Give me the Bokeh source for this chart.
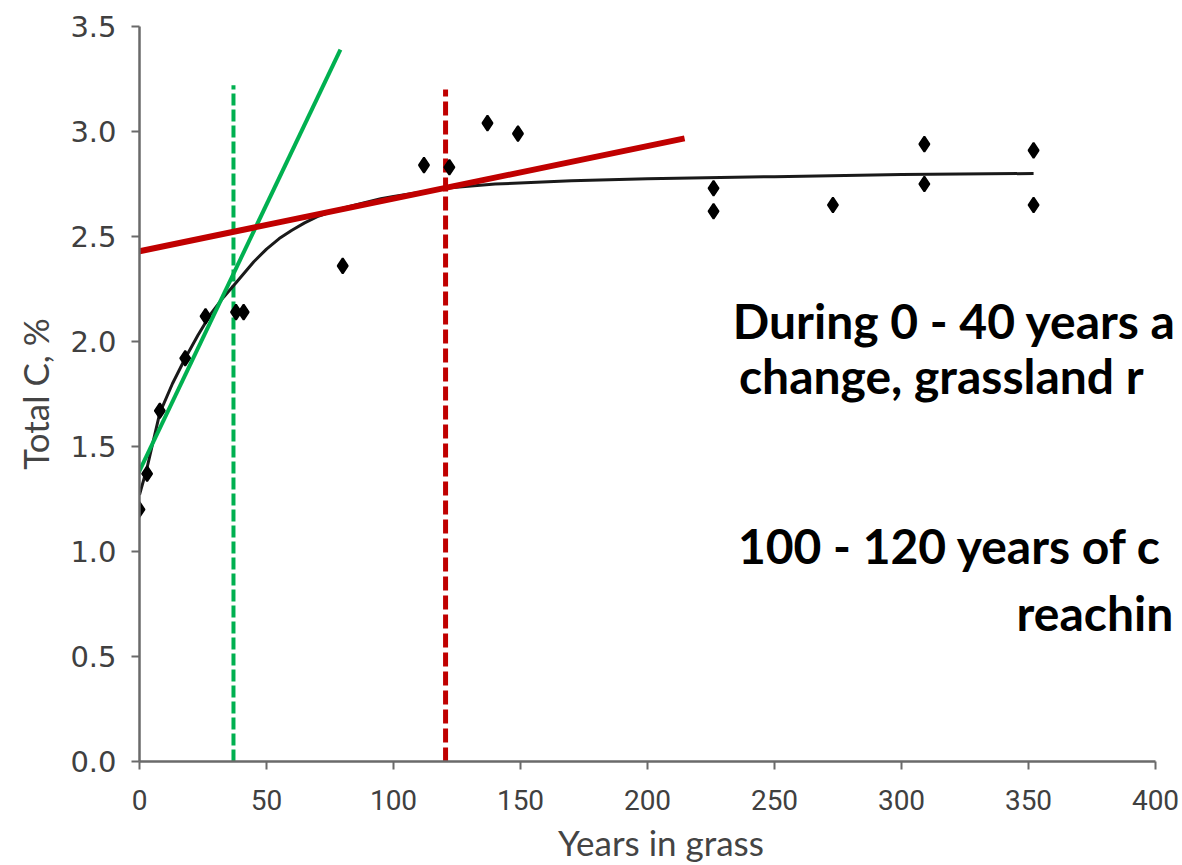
from bokeh.plotting import figure
from bokeh.models import Range1d, FixedTicker, NumeralTickFormatter
from bokeh.core.properties import value
from bokeh.embed import file_html
from bokeh.resources import INLINE

# ---------------- data ----------------
years = [0, 3, 8, 18, 26, 38, 41, 80, 112, 122, 137, 149, 226, 226, 273, 309, 309, 352, 352]
total_c = [1.20, 1.37, 1.67, 1.92, 2.12, 2.14, 2.14, 2.36, 2.84, 2.83, 3.04, 2.99,
           2.73, 2.62, 2.65, 2.94, 2.75, 2.91, 2.65]

curve_x = [0, 3, 8, 13, 18, 23, 28, 33, 38, 45, 50, 55, 60, 65, 70, 75, 80, 85, 95,
           100, 110, 120, 140, 170, 200, 250, 300, 352]
curve_y = [1.27, 1.40, 1.66, 1.80, 1.92, 2.03, 2.13, 2.21, 2.28, 2.38, 2.44, 2.49,
           2.53, 2.565, 2.595, 2.615, 2.635, 2.65, 2.68, 2.69, 2.71, 2.73, 2.75, 2.765,
           2.775, 2.785, 2.795, 2.80]

green_x = [-5.1, 79.1]
green_y = [1.255, 3.39]
red_x = [0, 214.6]
red_y = [2.43, 2.967]

green_dash_x = 37.0
green_dash_top = 3.22
red_dash_x = 120.5
red_dash_top = 3.20

x_ticks = [0, 50, 100, 150, 200, 250, 300, 350, 400]
y_ticks = [0.0, 0.5, 1.0, 1.5, 2.0, 2.5, 3.0, 3.5]

notes = ["During 0 - 40 years a", "change, grassland r", "100 - 120 years of c", "reachin"]
note_x = [233.6, 236.0, 235.6, 345.3]
note_y = [2.10, 1.84, 1.03, 0.71]

# ---------------- layout ----------------
W, H = 1182, 865
LEFT, TOP, BOTTOM = 139, 26, 103
PX_PER_YEAR = 2.54
x_end = (W - LEFT) / PX_PER_YEAR

RED = "#C00000"
GREEN = "#00B050"
AXIS = "#6a6a6a"
TICKTXT = "#404040"

p = figure(width=W, height=H, x_range=Range1d(0, x_end), y_range=Range1d(0, 3.5),
           output_backend="svg", toolbar_location=None,
           min_border_left=LEFT, min_border_right=0, min_border_top=TOP,
           min_border_bottom=BOTTOM)
p.outline_line_color = None
p.grid.visible = False
p.background_fill_color = "white"
p.border_fill_color = "white"

# axes
for ax in (p.xaxis[0], p.yaxis[0]):
    ax.axis_line_color = AXIS
    ax.axis_line_width = 2.5
    ax.major_tick_line_color = AXIS
    ax.major_tick_line_width = 2
    ax.major_tick_in = 0
    ax.major_tick_out = 8
    ax.minor_tick_line_color = None
    ax.major_label_text_color = TICKTXT
    ax.axis_label_text_color = "#444444"
    ax.axis_label_text_font_style = "normal"

p.xaxis.bounds = (0, 400)
p.xaxis.ticker = FixedTicker(ticks=x_ticks)
p.xaxis.major_label_text_font = "Roboto"
p.xaxis.major_label_text_font_size = "28px"
p.xaxis.major_label_standoff = 20
p.xaxis.axis_label = "Years in grass"
p.xaxis.axis_label_text_font = "Lato"
p.xaxis.axis_label_text_font_size = "35px"
p.xaxis.axis_label_standoff = 8

p.yaxis.bounds = (0, 3.5)
p.yaxis.ticker = FixedTicker(ticks=y_ticks)
p.yaxis.formatter = NumeralTickFormatter(format="0.0")
p.yaxis.major_label_text_font = "DejaVu Sans"
p.yaxis.major_label_text_font_size = "29px"
p.yaxis.major_label_standoff = 15
p.yaxis.axis_label = "Total C, %"
p.yaxis.axis_label_text_font = "Lato"
p.yaxis.axis_label_text_font_size = "35px"
p.yaxis.axis_label_standoff = 11

# dashed verticals
p.segment(x0=[green_dash_x], y0=[0], x1=[green_dash_x], y1=[green_dash_top],
          line_color=GREEN, line_width=4, line_dash="12 4")
p.segment(x0=[red_dash_x], y0=[0], x1=[red_dash_x], y1=[red_dash_top],
          line_color=RED, line_width=5, line_dash="14 5")

# fitted curve
p.line(curve_x, curve_y, line_color="#1a1a1a", line_width=3)

# data points
p.scatter(years, total_c, marker="diamond", size=15, fill_color="black",
          line_color="black", line_width=2)

# tangent lines
p.line(green_x, green_y, line_color=GREEN, line_width=4)
p.line(red_x, red_y, line_color=RED, line_width=6)

# annotation text
p.text(x=note_x, y=note_y, text=notes, text_font=value("Lato"),
       text_font_style="bold", text_font_size="48px", text_color="black",
       text_align="left", text_baseline="alphabetic")

open("out.html", "w").write(file_html(p, INLINE))
